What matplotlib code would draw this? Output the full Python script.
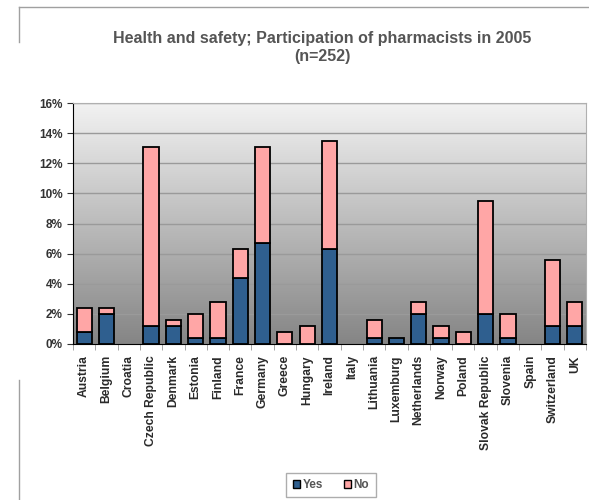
import numpy as np
import matplotlib
matplotlib.use("Agg")
import matplotlib.pyplot as plt
from matplotlib.lines import Line2D
from matplotlib.ticker import FuncFormatter

plt.rcParams['font.family'] = ['Liberation Sans', 'DejaVu Sans']

countries = ["Austria", "Belgium", "Croatia", "Czech Republic", "Denmark", "Estonia",
             "Finland", "France", "Germany", "Greece", "Hungary", "Ireland", "Italy",
             "Lithuania", "Luxemburg", "Netherlands", "Norway", "Poland",
             "Slovak Republic", "Slovenia", "Spain", "Switzerland", "UK"]
# percent of pharmacists (n=252)
yes_pct = [0.8, 2.0, 0.0, 1.2, 1.2, 0.4, 0.4, 4.4, 6.7, 0.0, 0.0, 6.3, 0.0,
           0.4, 0.4, 2.0, 0.4, 0.0, 2.0, 0.4, 0.0, 1.2, 1.2]
no_pct = [1.6, 0.4, 0.0, 11.9, 0.4, 1.6, 2.4, 1.9, 6.4, 0.8, 1.2, 7.2, 0.0,
          1.2, 0.0, 0.8, 0.8, 0.8, 7.5, 1.6, 0.0, 4.4, 1.6]

blue = "#2F5F8F"
pink = "#FFA6A6"
txt = "#555555"

fig = plt.figure(figsize=(5.89, 5.0), dpi=100)
ax = fig.add_axes([73 / 589, 1 - 344 / 500, (586 - 73) / 589, (344 - 103) / 500])

n = len(countries)
x = np.arange(n)
ax.set_xlim(-0.5, n - 0.5)
ax.set_ylim(0, 16)

# gradient background, dark at the bottom
grad = np.linspace(0, 1, 256).reshape(-1, 1)
cmap = matplotlib.colors.LinearSegmentedColormap.from_list("bg", ["#858585", "#f2f2f2"])
ax.imshow(grad, aspect="auto", cmap=cmap, extent=[-0.5, n - 0.5, 0, 16],
          zorder=0, origin="lower")

for yv in range(2, 17, 2):
    ax.axhline(yv, color="#9a9a9a", lw=1, zorder=1)

# skip empty segments so no flat outline is drawn
yes = np.array(yes_pct)
no = np.array(no_pct)
m1 = yes > 0
m2 = no > 0
ax.bar(x[m1], yes[m1], width=0.68, color=blue, edgecolor="black", lw=1.3, zorder=3)
ax.bar(x[m2], no[m2], bottom=yes[m2], width=0.68, color=pink, edgecolor="black", lw=1.3, zorder=3)

ax.set_yticks(range(0, 17, 2))
ax.yaxis.set_major_formatter(FuncFormatter(lambda v, p: f"{int(v)}%"))
ax.set_xticks(x)
ax.set_xticklabels(countries, rotation=90, fontweight="bold", fontsize=8.7, color="#2a2a2a")
ax.set_xticks(np.arange(-0.5, n, 1), minor=True)
ax.tick_params(axis="x", which="major", length=0, pad=8)
ax.tick_params(axis="x", which="minor", length=4, color="#999999")
ax.tick_params(axis="y", length=4, color="#333333", labelsize=8.5, labelcolor="#333333")
for lab in ax.get_yticklabels():
    lab.set_fontweight("bold")

for s in ["top", "right"]:
    ax.spines[s].set_color("#b0b0b0")
ax.spines["left"].set_color("black")
ax.spines["bottom"].set_color("black")

fig.text(322 / 589, 1 - 47 / 500, "Health and safety; Participation of pharmacists in 2005\n(n=252)",
         ha="center", va="center", fontsize=11.5, fontweight="bold", color=txt,
         linespacing=1.25)

# outer frame fragments
fc = "#a0a0a0"
fig.add_artist(Line2D([19 / 589, 1], [1 - 7 / 500, 1 - 7 / 500], color=fc, lw=1))
fig.add_artist(Line2D([19 / 589, 19 / 589], [1 - 7 / 500, 1 - 42 / 500], color=fc, lw=1))
fig.add_artist(Line2D([19 / 589, 19 / 589], [1 - 380 / 500, 0], color=fc, lw=1))

handles = [plt.Rectangle((0, 0), 1, 1, facecolor=blue, edgecolor="black", lw=1),
           plt.Rectangle((0, 0), 1, 1, facecolor=pink, edgecolor="black", lw=1)]
leg = fig.legend(handles, ["Yes", "No"], loc="center", bbox_to_anchor=(331 / 589, 1 - 485 / 500),
                 ncol=2, frameon=True, fancybox=False, fontsize=8.5, handlelength=0.6,
                 handleheight=0.6, handletextpad=0.2, columnspacing=1.8, borderpad=0.55)
leg.get_frame().set_edgecolor("#999999")
leg.get_frame().set_linewidth(1)
for t in leg.get_texts():
    t.set_fontweight("bold")
    t.set_color(txt)

fig.savefig("out.png", dpi=100)
